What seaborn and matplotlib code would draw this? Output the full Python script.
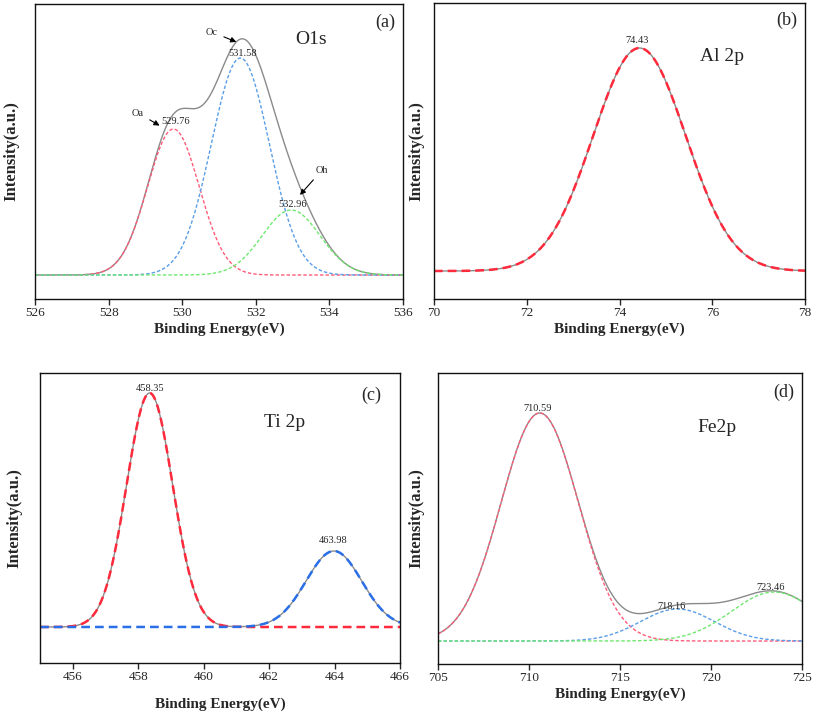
import numpy as np
import pandas as pd
import matplotlib as mpl
mpl.use('agg')
import matplotlib.pyplot as plt
import seaborn as sns

# peak fit parameters (centre eV, height a.u., fwhm eV)
o1s_names = ['Oa', 'Oc', 'Oh']
o1s_centers = [529.76, 531.58, 532.96]
o1s_heights = [146, 217, 65]
o1s_fwhm = [1.65, 1.85, 1.85]

al_centers = [74.43]
al_heights = [223]
al_fwhm = [2.35]

ti_centers = [458.35, 463.98]
ti_heights = [234, 76]
ti_fwhm = [1.66, 2.0]

fe_centers = [710.59, 718.16, 723.46]
fe_heights = [228, 32, 49]
fe_fwhm = [5.0, 4.8, 5.5]

sns.set_style('ticks')
plt.rcParams['font.family'] = ['Liberation Serif', 'DejaVu Serif']


def gauss(x, c, h, w):
    s = w / 2.3548
    return h * np.exp(-(x - c) ** 2 / (2 * s ** 2))


def components(lo, hi, centers, heights, fwhm):
    x = np.linspace(lo, hi, 600)
    df = pd.DataFrame({'x': x})
    for i, (c, h, w) in enumerate(zip(centers, heights, fwhm)):
        df['p%d' % i] = gauss(x, c, h, w)
    df['sum'] = df[[k for k in df.columns if k.startswith('p')]].sum(axis=1)
    return df


def style_axes(ax, xlim, ylim, xticks, ypad, xpad):
    ax.set_xlim(*xlim)
    ax.set_ylim(*ylim)
    ax.set_xticks(xticks)
    ax.set_yticks([])
    for sp in ax.spines.values():
        sp.set_visible(True)
        sp.set_linewidth(1.0)
        sp.set_color('#111111')
    ax.tick_params(axis='x', direction='out', length=4, width=1, labelsize=9.5, pad=2)
    ax.set_xlabel('Binding Energy(eV)', fontsize=11, fontweight='bold', labelpad=xpad)
    ax.set_ylabel('Intensity(a.u.)', fontsize=12, fontweight='bold', labelpad=ypad)


fig = plt.figure(figsize=(8.13, 7.14), dpi=100)
ax_a = fig.add_axes([0.0431, 0.5812, 0.4526, 0.4132])
ax_b = fig.add_axes([0.5338, 0.5812, 0.4564, 0.4146])
ax_c = fig.add_axes([0.0492, 0.0714, 0.4428, 0.4062])
ax_d = fig.add_axes([0.5387, 0.0700, 0.4478, 0.4076])

short = (0, (2.5, 1.5))
long_ = (0, (3.5, 2.0))
arrow = dict(arrowstyle='-|>', color='black', lw=0.8, mutation_scale=8)

# (a) O1s
df = components(526, 536, o1s_centers, o1s_heights, o1s_fwhm)
sns.lineplot(data=df, x='x', y='sum', ax=ax_a, color='#8a8a8a', lw=1.0)
for k, col in zip(['p0', 'p1', 'p2'], ['#ff5c78', '#5a9ee8', '#6ee86e']):
    sns.lineplot(data=df, x='x', y=k, ax=ax_a, color=col, lw=1.0, linestyle=short)
style_axes(ax_a, (526, 536), (-24, 271), [526, 528, 530, 532, 534, 536], 11, 2)
for c, y in zip(o1s_centers, [154, 222, 71]):
    ax_a.text(c + 0.05, y, '%.2f' % c, fontsize=7.5, ha='center', va='center')
ax_a.annotate(o1s_names[0], xy=(529.45, 148), xytext=(528.8, 162), fontsize=7.5,
              ha='center', va='center', arrowprops=arrow)
ax_a.annotate(o1s_names[1], xy=(531.54, 232), xytext=(530.81, 243), fontsize=7.5,
              ha='center', va='center', arrowprops=arrow)
ax_a.annotate(o1s_names[2], xy=(533.15, 78), xytext=(533.8, 105), fontsize=7.5,
              ha='center', va='center', arrowprops=arrow)
ax_a.text(0.75, 0.878, 'O1s', transform=ax_a.transAxes, fontsize=14, ha='center', va='center')
ax_a.text(0.951, 0.939, '(a)', transform=ax_a.transAxes, fontsize=13, ha='center', va='center')

# (b) Al 2p
df = components(70, 78, al_centers, al_heights, al_fwhm)
sns.lineplot(data=df, x='x', y='sum', ax=ax_b, color='#8a8a8a', lw=1.0)
sns.lineplot(data=df, x='x', y='p0', ax=ax_b, color='#ff2a3c', lw=1.8, linestyle=long_)
style_axes(ax_b, (70, 78), (-28, 268), [70, 72, 74, 76, 78], 7, 2)
ax_b.text(74.37, 231, '%.2f' % al_centers[0], fontsize=7.5, ha='center', va='center')
ax_b.text(0.776, 0.818, 'Al 2p', transform=ax_b.transAxes, fontsize=14, ha='center', va='center')
ax_b.text(0.951, 0.943, '(b)', transform=ax_b.transAxes, fontsize=13, ha='center', va='center')

# (c) Ti 2p
df = components(455, 466, ti_centers, ti_heights, ti_fwhm)
sns.lineplot(data=df, x='x', y='sum', ax=ax_c, color='#8a8a8a', lw=1.0)
sns.lineplot(data=df, x='x', y='p0', ax=ax_c, color='#ff2a3c', lw=1.8, linestyle=long_)
sns.lineplot(data=df, x='x', y='p1', ax=ax_c, color='#2a6fe8', lw=1.8, linestyle=long_)
style_axes(ax_c, (455, 466), (-36, 254), [456, 458, 460, 462, 464, 466], 13, 10)
for c, x, y in zip(ti_centers, [458.36, 463.96], [238, 87]):
    ax_c.text(x, y, '%.2f' % c, fontsize=7.5, ha='center', va='center')
ax_c.text(0.68, 0.831, 'Ti 2p', transform=ax_c.transAxes, fontsize=14, ha='center', va='center')
ax_c.text(0.919, 0.924, '(c)', transform=ax_c.transAxes, fontsize=13, ha='center', va='center')

# (d) Fe2p
df = components(705, 725, fe_centers, fe_heights, fe_fwhm)
sns.lineplot(data=df, x='x', y='sum', ax=ax_d, color='#8a8a8a', lw=1.0)
for k, col in zip(['p0', 'p1', 'p2'], ['#ff5c78', '#5a9ee8', '#6ee86e']):
    sns.lineplot(data=df, x='x', y=k, ax=ax_d, color=col, lw=1.0, linestyle=short)
style_axes(ax_d, (705, 725), (-23, 268), [705, 710, 715, 720, 725], 10, 2)
for c, x, y in zip(fe_centers, [710.49, 717.86, 723.3], [232, 35, 54]):
    ax_d.text(x, y, '%.2f' % c, fontsize=7.5, ha='center', va='center')
ax_d.text(0.766, 0.811, 'Fe2p', transform=ax_d.transAxes, fontsize=14, ha='center', va='center')
ax_d.text(0.951, 0.935, '(d)', transform=ax_d.transAxes, fontsize=13, ha='center', va='center')

fig.savefig('out.png', dpi=100)
plt.close()
